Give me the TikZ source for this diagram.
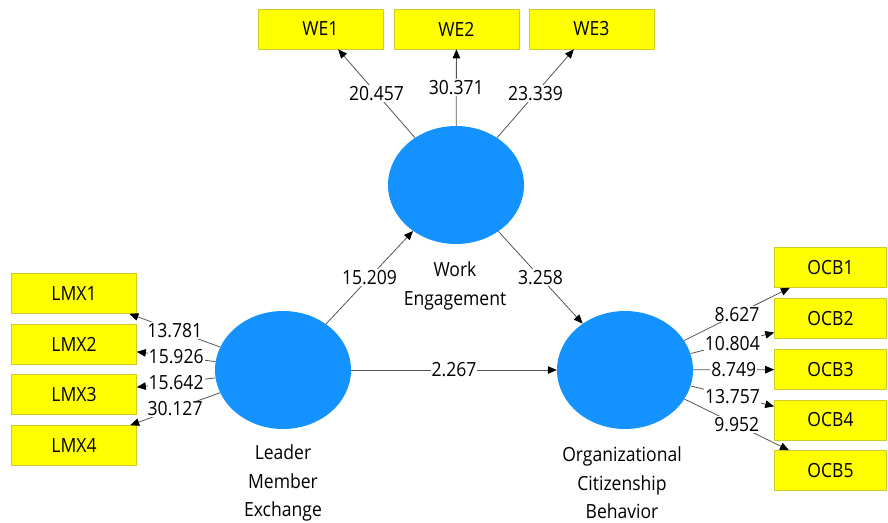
\documentclass[tikz,border=0pt]{standalone}
\usepackage{fontspec}
\setmainfont{Open Sans}
\usetikzlibrary{shapes.geometric,arrows.meta}
\definecolor{latblue}{RGB}{20,146,255}
\definecolor{indyellow}{RGB}{255,255,0}
\definecolor{indborder}{RGB}{205,205,40}
\definecolor{linegray}{RGB}{85,85,85}
\newcommand\sqz[1]{\scalebox{0.9}[1]{#1}}
\tikzset{
  latent/.style={ellipse, fill=latblue, draw=none, minimum width=136pt, minimum height=118pt, inner sep=0pt},
  indbox/.style={rectangle, fill=indyellow, draw=indborder, line width=0.6pt, minimum width=125pt, minimum height=40pt, inner sep=0pt, font=\fontsize{19.5}{21}\selectfont},
  ocbbox/.style={indbox, minimum width=112pt},
  path/.style={draw=linegray, line width=0.8pt, -{Triangle[length=9pt,width=7.5pt,black]}},
  val/.style={fill=white, inner sep=1pt, pos=0.5, font=\fontsize{19.5}{21}\selectfont},
  lbl/.style={align=center, font=\fontsize{19.5}{28.5}\selectfont, inner sep=0pt}
}
\begin{document}
\begin{tikzpicture}[x=1pt,y=-1pt]
\useasboundingbox (0,0) rectangle (888,522);
% latent variables
\node[latent] (WE) at (456,185) {};
\node[latent] (LMX) at (283,370) {};
\node[latent] (OCB) at (625,370) {};
% latent labels
\node[lbl] (WEl) at (455,286) {\sqz{Work}\\\sqz{Engagement}};
\node[lbl] (LMXl) at (283,483) {\sqz{Leader}\\\sqz{Member}\\\sqz{Exchange}};
\node[lbl] (OCBl) at (622,483) {\sqz{Organizational}\\\sqz{Citizenship}\\\sqz{Behavior}};
% indicators
\node[indbox] (WE1) at (320.5,29) {\sqz{WE1}};
\node[indbox] (WE2) at (456.5,29) {\sqz{WE2}};
\node[indbox] (WE3) at (591.5,29) {\sqz{WE3}};
\node[indbox] (LMX1) at (74,293.5) {\sqz{LMX1}};
\node[indbox] (LMX2) at (74,344) {\sqz{LMX2}};
\node[indbox] (LMX3) at (74,394.5) {\sqz{LMX3}};
\node[indbox] (LMX4) at (74,445.5) {\sqz{LMX4}};
\node[ocbbox] (OCB1) at (830.5,267.5) {\sqz{OCB1}};
\node[ocbbox] (OCB2) at (830.5,318.5) {\sqz{OCB2}};
\node[ocbbox] (OCB3) at (830.5,369.5) {\sqz{OCB3}};
\node[ocbbox] (OCB4) at (830.5,420) {\sqz{OCB4}};
\node[ocbbox] (OCB5) at (830.5,470.5) {\sqz{OCB5}};
% outer loadings
\draw[path] (WE) -- node[val] {\sqz{20.457}} (WE1);
\draw[path] (WE) -- node[val] {\sqz{30.371}} (WE2);
\draw[path] (WE) -- node[val] {\sqz{23.339}} (WE3);
\draw[path] (LMX) -- node[val] {\sqz{13.781}} (LMX1);
\draw[path] (LMX) -- node[val] {\sqz{15.926}} (LMX2);
\draw[path] (LMX) -- node[val] {\sqz{15.642}} (LMX3);
\draw[path] (LMX) -- node[val] {\sqz{30.127}} (LMX4);
\draw[path] (OCB) -- node[val] {\sqz{8.627}} (OCB1);
\draw[path] (OCB) -- node[val] {\sqz{10.804}} (OCB2);
\draw[path] (OCB) -- node[val] {\sqz{8.749}} (OCB3);
\draw[path] (OCB) -- node[val] {\sqz{13.757}} (OCB4);
\draw[path] (OCB) -- node[val] {\sqz{9.952}} (OCB5);
% structural paths
\draw[path] (LMX) -- node[val] {\sqz{15.209}} (WE);
\draw[path] (WE) -- node[val] {\sqz{3.258}} (OCB);
\draw[path] (LMX) -- node[val] {\sqz{2.267}} (OCB);
\end{tikzpicture}
\end{document}
